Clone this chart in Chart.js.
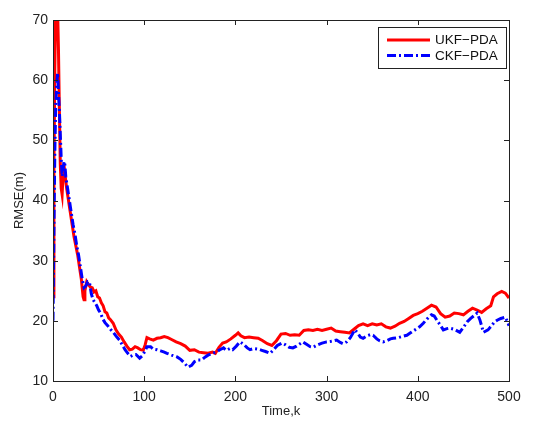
<!DOCTYPE html>
<html>
<head>
<meta charset="utf-8">
<script src="https://cdn.jsdelivr.net/npm/chart.js@4/dist/chart.umd.min.js"></script>
<style>
  html, body { margin: 0; padding: 0; background: #fff; }
  #wrap { width: 550px; height: 431px; }
</style>
</head>
<body>
<div id="wrap"><canvas id="rmseChart" width="550" height="431"></canvas></div>
<script>
// UKF-PDA (red, solid)
const ukfK = [0, 1, 2, 3, 4, 5, 6, 7, 8, 9, 10, 11, 12, 13, 15, 17, 19, 21, 23, 25, 27, 29, 31, 33, 34, 35, 37, 39, 41, 43, 45, 47, 49, 51, 53, 55, 57, 59, 61, 63, 66, 69, 72, 75, 78, 81, 84, 87, 90, 93, 96, 99, 101, 103, 106, 110, 114, 118, 122, 126, 130, 135, 140, 145, 150, 155, 160, 165, 170, 175, 178, 182, 186, 190, 195, 200, 203, 206, 210, 215, 220, 225, 230, 235, 240, 245, 250, 255, 260, 265, 270, 275, 280, 285, 290, 295, 300, 305, 310, 315, 320, 325, 330, 335, 340, 345, 350, 355, 360, 365, 370, 375, 380, 385, 390, 395, 400, 405, 410, 415, 420, 425, 430, 435, 440, 445, 450, 455, 460, 465, 470, 475, 480, 483, 487, 492, 496, 500];
const ukfRmse = [24, 45, 62, 72, 75, 72, 65, 55, 46, 42, 41, 44, 46, 44.5, 42, 40, 38, 36, 34, 32.5, 31, 29, 27, 24, 23.5, 25, 26.5, 26, 25.6, 25.5, 24.8, 25, 24, 23.8, 23, 22.5, 21.5, 21.3, 20.5, 20.2, 19.6, 18.5, 17.8, 17.3, 16.5, 15.8, 15.2, 15.3, 15.7, 15.5, 15.2, 15.1, 16, 17.2, 17, 16.8, 17.1, 17.2, 17.4, 17.2, 16.9, 16.5, 16.2, 15.8, 15.1, 15.2, 14.8, 14.7, 14.6, 14.8, 14.6, 15.6, 16.3, 16.5, 17, 17.6, 18, 17.5, 17.2, 17.3, 17.2, 17.1, 16.7, 16.2, 15.9, 16.7, 17.8, 17.9, 17.6, 17.7, 17.6, 18.4, 18.5, 18.4, 18.6, 18.4, 18.6, 18.8, 18.3, 18.2, 18.1, 18.0, 18.6, 19.2, 19.5, 19.2, 19.5, 19.3, 19.5, 19.0, 18.8, 19.1, 19.6, 19.9, 20.4, 20.9, 21.2, 21.6, 22.1, 22.6, 22.3, 21.2, 20.6, 20.8, 21.3, 21.2, 21.0, 21.6, 22.1, 21.8, 21.4, 22.0, 22.5, 24, 24.5, 24.9, 24.6, 23.8];

// CKF-PDA (blue, dash-dot)
const ckfK = [0, 1, 2, 3, 4, 5, 6, 7, 8, 9, 10, 11, 12, 13, 14, 16, 18, 20, 22, 24, 26, 28, 30, 32, 34, 36, 38, 40, 42, 44, 46, 48, 50, 52, 55, 57, 60, 63, 66, 70, 73, 76, 79, 82, 85, 88, 91, 95, 98, 101, 103, 107, 110, 114, 118, 122, 125, 130, 136, 140, 144, 148, 152, 155, 159, 163, 167, 170, 175, 180, 183, 187, 190, 194, 197, 201, 205, 209, 213, 216, 220, 225, 229, 233, 238, 242, 246, 251, 255, 259, 263, 267, 271, 274, 278, 282, 285, 290, 295, 300, 305, 311, 315, 318, 322, 326, 331, 334, 337, 340, 344, 348, 351, 355, 358, 362, 366, 370, 373, 378, 383, 388, 392, 397, 402, 406, 410, 415, 418, 421, 425, 428, 432, 435, 440, 446, 450, 454, 458, 462, 465, 468, 472, 477, 481, 484, 487, 491, 496, 499, 500];
const ckfRmse = [20, 35, 48, 56, 59, 61.2, 58, 55, 51, 47, 44, 45, 46.5, 46, 44, 42, 40, 38, 36, 34.5, 32.5, 31, 29, 27, 25.5, 25.8, 26.5, 26.4, 24.5, 23.5, 23, 22.5, 21.8, 21.3, 20.2, 19.7, 19.2, 18.6, 18.1, 17.3, 16.8, 16, 15.2, 14.6, 14.1, 14.3, 14.4, 13.8, 14.2, 15, 15.7, 15.7, 15.3, 15.2, 15, 14.8, 14.6, 14.3, 14, 13.6, 13, 12.3, 12.6, 13.2, 13.5, 13.5, 14.0, 14.3, 14.6, 14.9, 15.2, 15.5, 15.1, 15.4, 15.2, 15.8, 16.5, 16.1, 15.5, 15.2, 15.4, 15.3, 15.1, 14.9, 14.6, 15.2, 15.9, 16.3, 16.0, 15.6, 15.5, 15.8, 16.2, 16.5, 16.1, 15.7, 15.6, 16.0, 16.3, 16.5, 16.6, 16.8, 16.4, 16.2, 16.5, 17.2, 18.5, 18.0, 17.3, 17.1, 17.5, 17.7, 17.6, 17.0, 16.7, 16.5, 16.7, 17.0, 17.1, 17.2, 17.4, 17.6, 18.0, 18.5, 19.0, 19.6, 20.3, 21.0, 20.8, 20.1, 19.2, 18.5, 18.7, 18.8, 18.6, 18.1, 18.9, 19.8, 20.4, 20.9, 21.3, 20.2, 18.1, 18.5, 19.2, 19.8, 20.1, 20.4, 20.6, 19.6, 19.2];

const xTicks = [0, 100, 200, 300, 400, 500];
const yTicks = [10, 20, 30, 40, 50, 60, 70];

const seriesNames = ["UKF\u2212PDA", "CKF\u2212PDA"];
const seriesColors = ["#ff0000", "#0000ff"];
const seriesDash = [[], [9, 3, 2, 3]];

const FONT = "'Liberation Sans', Arial, Helvetica, sans-serif";

function toPoints(xs, ys) {
    return xs.map((x, i) => ({ x: x, y: ys[i] }));
}

// matlab style box, inward ticks and legend
const matlabBox = {
    id: "matlabBox",
    afterDraw(chart) {
        const ctx = chart.ctx;
        const a = chart.chartArea;
        const xs = chart.scales.x;
        const ys = chart.scales.y;
        ctx.save();
        ctx.strokeStyle = "#222";
        ctx.lineWidth = 1;
        ctx.strokeRect(Math.round(a.left) + 0.5, Math.round(a.top) + 0.5,
            Math.round(a.right - a.left), Math.round(a.bottom - a.top));
        ctx.beginPath();
        xTicks.forEach(v => {
            const px = Math.round(xs.getPixelForValue(v)) + 0.5;
            ctx.moveTo(px, a.bottom); ctx.lineTo(px, a.bottom - 5);
            ctx.moveTo(px, a.top); ctx.lineTo(px, a.top + 5);
        });
        yTicks.forEach(v => {
            const py = Math.round(ys.getPixelForValue(v)) + 0.5;
            ctx.moveTo(a.left, py); ctx.lineTo(a.left + 5, py);
            ctx.moveTo(a.right, py); ctx.lineTo(a.right - 5, py);
        });
        ctx.stroke();

        // legend
        const lx = 378, ly = 27, lw = 128, lh = 41;
        ctx.fillStyle = "#fff";
        ctx.fillRect(lx, ly, lw, lh);
        ctx.strokeStyle = "#222";
        ctx.strokeRect(lx + 0.5, ly + 0.5, lw, lh);
        ctx.font = "13.5px " + FONT;
        ctx.textBaseline = "middle";
        ctx.textAlign = "left";
        seriesNames.forEach((name, i) => {
            const y = ly + 13 + i * 15.5;
            ctx.beginPath();
            ctx.strokeStyle = seriesColors[i];
            ctx.lineWidth = 3;
            ctx.setLineDash(seriesDash[i]);
            ctx.moveTo(387, y); ctx.lineTo(430, y);
            ctx.stroke();
            ctx.setLineDash([]);
            ctx.fillStyle = "#111";
            ctx.fillText(name, 435, y + 0.5);
        });
        ctx.restore();
    }
};

new Chart("rmseChart", {
    type: "line",
    data: {
        datasets: [{
            label: seriesNames[0],
            data: toPoints(ukfK, ukfRmse),
            borderColor: seriesColors[0],
            borderWidth: 3,
            pointRadius: 0,
            tension: 0,
            order: 1
        }, {
            label: seriesNames[1],
            data: toPoints(ckfK, ckfRmse),
            borderColor: seriesColors[1],
            borderWidth: 3,
            borderDash: seriesDash[1],
            pointRadius: 0,
            tension: 0,
            order: 0
        }]
    },
    options: {
        responsive: false,
        animation: false,
        events: [],
        clip: 0,
        layout: { padding: { left: 0, top: 20, right: 41, bottom: 0 } },
        plugins: {
            legend: { display: false },
            tooltip: { enabled: false }
        },
        scales: {
            x: {
                type: "linear",
                min: 0,
                max: 500,
                afterFit(s) { s.height = 50; },
                afterBuildTicks(s) { s.ticks = xTicks.map(v => ({ value: v })); },
                grid: { display: false, drawTicks: false },
                border: { display: false },
                ticks: { padding: 8, color: "#222", font: { size: 14, family: FONT } },
                title: {
                    display: true, text: "Time,k", color: "#222",
                    font: { size: 13, family: FONT }, padding: { top: 0, bottom: 12 }
                }
            },
            y: {
                min: 10,
                max: 70,
                afterFit(s) { s.width = 53; },
                afterBuildTicks(s) { s.ticks = yTicks.map(v => ({ value: v })); },
                grid: { display: false, drawTicks: false },
                border: { display: false },
                ticks: { padding: 5, color: "#222", font: { size: 14, family: FONT } },
                title: {
                    display: true, text: "RMSE(m)", color: "#222",
                    font: { size: 13, family: FONT }, padding: { top: 12, bottom: 0 }
                }
            }
        }
    },
    plugins: [matlabBox]
});
</script>
</body>
</html>
